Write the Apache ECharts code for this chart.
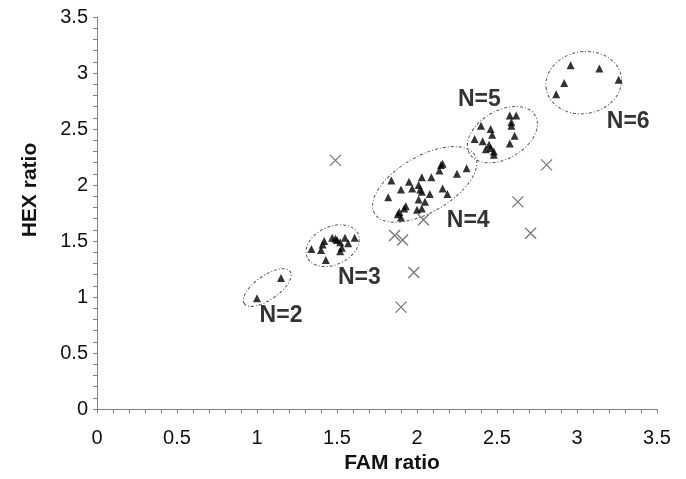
<!DOCTYPE html>
<html>
<head>
<meta charset="utf-8">
<script src="https://cdn.jsdelivr.net/npm/echarts@6/dist/echarts.min.js"></script>
<style>
  html, body { margin: 0; padding: 0; background: #fff; }
  #chart { width: 686px; height: 479px; }
</style>
</head>
<body>
<div id="chart"></div>
<script>
// 各簇的三角点 (FAM ratio, HEX ratio)
var clusterN2 = [[1.00, 0.99], [1.15, 1.17]];
var clusterN3 = [[1.34, 1.43], [1.40, 1.42], [1.41, 1.47], [1.42, 1.50], [1.43, 1.33], [1.47, 1.53], [1.49, 1.52],
    [1.50, 1.51], [1.52, 1.49], [1.53, 1.44], [1.52, 1.41], [1.55, 1.53], [1.57, 1.48], [1.61, 1.53]];
var clusterN4 = [[1.84, 2.04], [1.82, 1.89], [1.90, 1.96], [1.95, 2.03], [1.97, 1.97], [2.01, 2.00], [2.03, 2.07],
    [2.02, 1.96], [2.03, 1.94], [2.09, 2.07], [2.14, 2.13], [2.15, 2.18], [2.16, 2.19], [2.25, 2.10], [2.31, 2.15],
    [2.16, 1.97], [2.19, 1.92], [2.08, 1.92], [2.01, 1.87], [2.05, 1.85], [2.00, 1.78], [2.03, 1.79], [1.93, 1.81],
    [1.89, 1.76], [1.90, 1.71], [1.88, 1.74], [1.92, 1.79]];
var clusterN5 = [[2.40, 2.53], [2.46, 2.50], [2.47, 2.45], [2.36, 2.41], [2.41, 2.39], [2.45, 2.36], [2.46, 2.33],
    [2.43, 2.32], [2.48, 2.30], [2.48, 2.27], [2.58, 2.62], [2.62, 2.62], [2.59, 2.56], [2.59, 2.53], [2.61, 2.44],
    [2.58, 2.37]];
var clusterN6 = [[2.96, 3.07], [3.14, 3.04], [3.26, 2.94], [2.92, 2.91], [2.87, 2.81]];
// 叉号点
var crossPoints = [[1.49, 2.22], [2.81, 2.18], [2.63, 1.85], [2.71, 1.57], [1.86, 1.55], [1.91, 1.51],
    [2.04, 1.69], [1.98, 1.22], [1.90, 0.91]];
// 簇标签
var clusterNames = ['N=2', 'N=3', 'N=4', 'N=5', 'N=6'];
var clusterLabelAt = [[1.15, 0.83], [1.64, 1.17], [2.32, 1.68], [2.39, 2.76], [3.32, 2.57]];
// 椭圆中心
var ringCenters = [[1.064, 1.085], [1.473, 1.459], [2.048, 2.006], [2.534, 2.450], [3.042, 2.914]];
// 椭圆大小 (px) 和角度
var ringShape = [[28, 12, 35], [28, 19, 25], [58, 28, 30], [38, 24, 30], [38, 31, 10]];

var allTri = clusterN2.concat(clusterN3, clusterN4, clusterN5, clusterN6);
var labelData = [];
for (var i = 0; i < clusterNames.length; i++) {
    labelData.push([clusterLabelAt[i][0], clusterLabelAt[i][1], clusterNames[i]]);
}
var ringData = [];
for (var j = 0; j < ringCenters.length; j++) {
    ringData.push([ringCenters[j][0], ringCenters[j][1], j]);
}

var axisColor = '#808080';
var textColor = '#111';
var font = 'Liberation Sans, Arial, sans-serif';

var option = {
    animation: false,
    backgroundColor: '#fff',
    grid: { left: 97, right: 29, top: 17, bottom: 65 },
    xAxis: {
        type: 'value', min: 0, max: 3.5, interval: 0.5,
        name: 'FAM ratio', nameLocation: 'middle', nameGap: 41,
        nameTextStyle: { fontFamily: font, fontSize: 21, fontWeight: 'bold', color: textColor, padding: [0, 0, 0, 30] },
        axisLine: { lineStyle: { color: axisColor, width: 1 } },
        axisTick: { show: true, length: 4, lineStyle: { color: axisColor } },
        minorTick: { show: true, splitNumber: 5, length: 4, lineStyle: { color: axisColor } },
        splitLine: { show: false },
        axisLabel: { fontFamily: font, fontSize: 20, color: textColor, margin: 19 }
    },
    yAxis: {
        type: 'value', min: 0, max: 3.5, interval: 0.5,
        name: 'HEX ratio', nameLocation: 'middle', nameGap: 56,
        nameTextStyle: { fontFamily: font, fontSize: 21, fontWeight: 'bold', color: textColor, padding: [0, 0, 0, 46] },
        axisLine: { show: true, lineStyle: { color: axisColor, width: 1 } },
        axisTick: { show: true, length: 4, lineStyle: { color: axisColor } },
        minorTick: { show: true, splitNumber: 5, length: 4, lineStyle: { color: axisColor } },
        splitLine: { show: false },
        axisLabel: { fontFamily: font, fontSize: 20, color: textColor, margin: 9 }
    },
    series: [
        {
            type: 'custom',
            data: ringData,
            silent: true,
            renderItem: function (params, api) {
                var c = api.coord([api.value(0), api.value(1)]);
                var s = ringShape[api.value(2)];
                return {
                    type: 'ellipse',
                    x: c[0], y: c[1],
                    rotation: s[2] * Math.PI / 180,
                    shape: { cx: 0, cy: 0, rx: s[0], ry: s[1] },
                    style: { fill: 'none', stroke: '#555', lineWidth: 1, lineDash: [3, 2, 1, 2] }
                };
            }
        },
        {
            type: 'scatter',
            data: allTri,
            symbol: 'triangle',
            symbolSize: 8,
            itemStyle: { color: '#000' }
        },
        {
            type: 'scatter',
            data: crossPoints,
            symbol: 'path://M0,0L10,10M10,0L0,10',
            symbolSize: 11,
            itemStyle: { color: 'none', borderColor: '#555', borderWidth: 1.3 }
        },
        {
            type: 'scatter',
            data: labelData,
            symbolSize: 0,
            silent: true,
            label: {
                show: true, position: 'inside',
                formatter: function (p) { return p.value[2]; },
                fontFamily: font, fontSize: 23, fontWeight: 'bold', color: '#000'
            }
        }
    ]
};

var myChart = echarts.init(document.getElementById('chart'));
myChart.setOption(option);
</script>
</body>
</html>
